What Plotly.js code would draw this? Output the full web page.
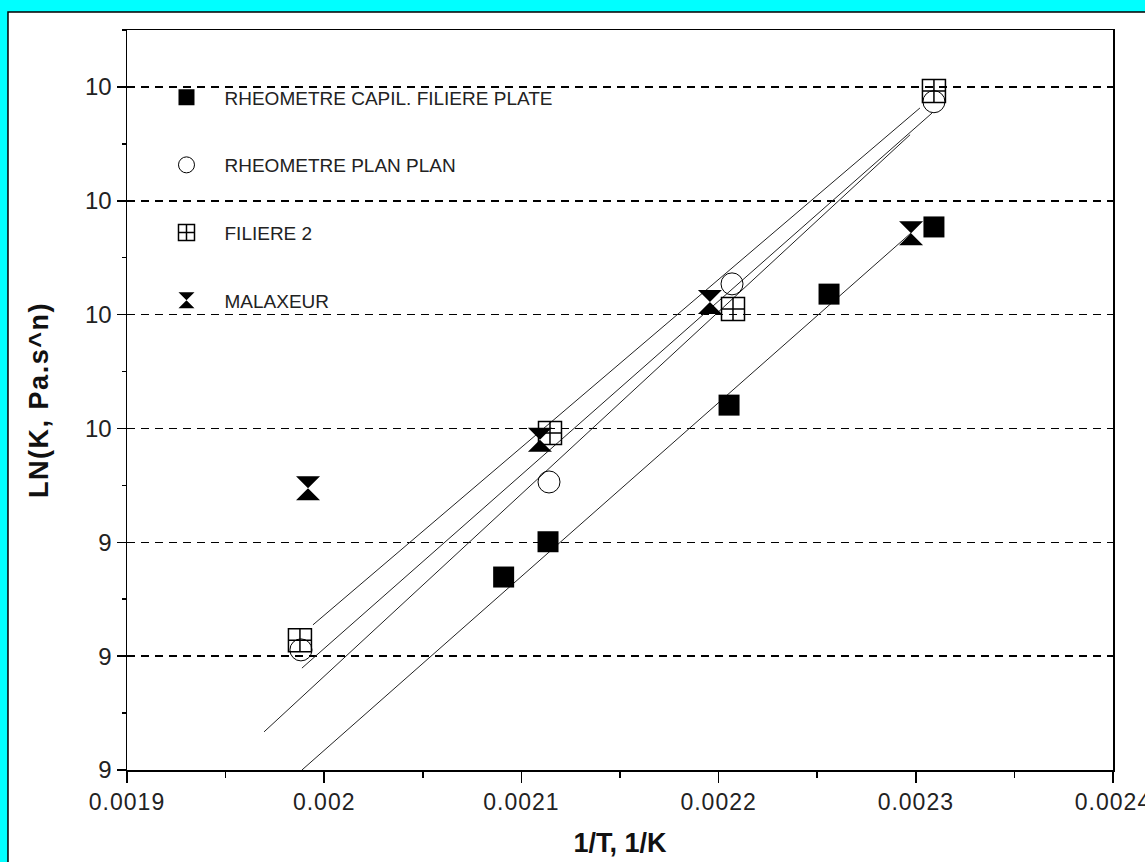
<!DOCTYPE html>
<html><head><meta charset="utf-8">
<script src="https://cdn.plot.ly/plotly-3.0.1.min.js"></script>
<style>html,body{margin:0;padding:0;background:#00ffff;}#chart{width:1145px;height:862px;}
.xtick text{letter-spacing:1px;}
.g-ytitle text{letter-spacing:1.5px;}
</style>
</head><body><div id="chart"></div><script>
// ---- data ----
const seriesNames = ['RHEOMETRE CAPIL. FILIERE PLATE', 'RHEOMETRE PLAN PLAN', 'FILIERE 2', 'MALAXEUR'];
const capilX = [0.002091, 0.0021135, 0.0022053, 0.002256, 0.0023092];
const capilY = [9.339, 9.401, 9.641, 9.836, 9.954];
const planX = [0.0019882, 0.002114, 0.0022068, 0.0023092];
const planY = [9.211, 9.506, 9.854, 10.174];
const filiereX = [0.0019877, 0.0021145, 0.0022073, 0.0023092];
const filiereY = [9.228, 9.592, 9.810, 10.193];
const malaxX = [0.0019918, 0.0021094, 0.0021956, 0.0022976];
const malaxY = [9.495, 9.580, 9.822, 9.943];
// fitted straight lines (end points)
const fitFiliereX = [0.0019943, 0.0023021];
const fitFiliereY = [9.255, 10.163];
const fitPlanX = [0.0019887, 0.0023082];
const fitPlanY = [9.179, 10.154];
const fitMalaxX = [0.0019695, 0.0022971];
const fitMalaxY = [9.067, 10.116];
const fitCapilX = [0.0019887, 0.0022976];
const fitCapilY = [9.0, 9.9435];
// axis ticks
const xTickVals = [0.0019, 0.002, 0.0021, 0.0022, 0.0023, 0.0024];
const xTickText = ['0.0019', '0.002', '0.0021', '0.0022', '0.0023', '0.0024'];
const yTickVals = [9.0, 9.2, 9.4, 9.6, 9.8, 10.0, 10.2];
const yTickText = ['9', '9', '9', '10', '10', '10', '10'];
const xTitle = '1/T, 1/K';
const yTitle = 'LN(K, Pa.s^n)';

const FONT = 'Liberation Sans, Arial, sans-serif';
const lineStyle = {color: '#222', width: 1};

function fit(x, y) {
  return {x: x, y: y, type: 'scatter', mode: 'lines', line: lineStyle, showlegend: false, hoverinfo: 'skip', cliponaxis: true};
}
const traces = [
  fit(fitCapilX, fitCapilY),
  fit(fitMalaxX, fitMalaxY),
  fit(fitPlanX, fitPlanY),
  fit(fitFiliereX, fitFiliereY),
  {x: capilX, y: capilY, name: seriesNames[0], legendgroup: 'a', type: 'scatter', mode: 'markers',
   marker: {symbol: 'square', size: 21, color: '#000', line: {width: 0}}},
  {x: planX, y: planY, name: seriesNames[1], legendgroup: 'b', type: 'scatter', mode: 'markers',
   marker: {symbol: 'circle-open', size: 22, color: '#000', line: {width: 1, color: '#000'}}},
  {x: filiereX, y: filiereY, name: seriesNames[2], legendgroup: 'c', type: 'scatter', mode: 'markers',
   marker: {symbol: 'square-cross-open', size: 23, color: '#000', line: {width: 1.5, color: '#000'}}},
  {x: malaxX, y: malaxY, name: seriesNames[3], legendgroup: 'd', type: 'scatter', mode: 'markers',
   marker: {symbol: 'hourglass', size: 24, color: '#000', line: {width: 0}}}
];

const layout = {
  width: 1145, height: 862,
  margin: {l: 127, r: 32, t: 30, b: 92, pad: 0},
  paper_bgcolor: '#00ffff',
  plot_bgcolor: '#ffffff',
  font: {family: FONT, color: '#222'},
  showlegend: true,
  legend: {x: 0.0218, y: 0.9347, xanchor: 'left', yanchor: 'top', bgcolor: 'rgba(0,0,0,0)',
           font: {family: FONT, size: 19, color: '#222'}, tracegroupgap: 40, itemwidth: 66},
  shapes: [{type: 'rect', xref: 'paper', yref: 'paper', x0: -0.1207, x1: 1.06, y0: -0.2, y1: 1.0243,
            fillcolor: '#ffffff', line: {color: '#000', width: 1.5}, layer: 'below'}],
  xaxis: {
    range: [0.0019, 0.0024], tickmode: 'array', tickvals: xTickVals, ticktext: xTickText,
    showline: true, linecolor: '#000', linewidth: 1.5, mirror: true,
    ticks: 'outside', ticklen: 11, tickwidth: 1.5, tickcolor: '#000', ticklabeloverflow: 'allow',
    minor: {tickmode: 'linear', tick0: 0.0019, dtick: 0.00005, ticks: 'outside', ticklen: 6, tickwidth: 1.5, tickcolor: '#000', showgrid: false},
    showgrid: false, zeroline: false,
    tickfont: {family: FONT, size: 23, color: '#222'},
    title: {text: xTitle, font: {family: FONT, size: 27, color: '#111', weight: 'bold'}, standoff: 19}
  },
  yaxis: {
    range: [9.0, 10.3], tickmode: 'array', tickvals: yTickVals, ticktext: yTickText,
    showline: true, linecolor: '#000', linewidth: 1.5, mirror: true,
    ticks: 'outside', ticklen: 9, tickwidth: 1.5, tickcolor: '#000',
    minor: {tickmode: 'linear', tick0: 9.0, dtick: 0.1, ticks: 'outside', ticklen: 4, tickwidth: 1.5, tickcolor: '#000', showgrid: false},
    showgrid: true, gridcolor: '#000', gridwidth: 1.5, griddash: '8px,6px', zeroline: false,
    tickfont: {family: FONT, size: 24, color: '#222'},
    title: {text: yTitle, font: {family: FONT, size: 27, color: '#111', weight: 'bold'}, standoff: 28}
  }
};
Plotly.newPlot('chart', traces, layout, {displayModeBar: false, staticPlot: true});
</script></body></html>
